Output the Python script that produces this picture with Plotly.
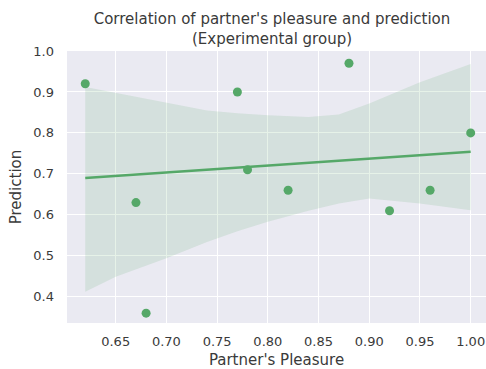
import numpy as np
import plotly.graph_objects as go

# Data
partner_pleasure = [0.62, 0.67, 0.68, 0.77, 0.78, 0.82, 0.88, 0.92, 0.96, 1.00]
prediction = [0.92, 0.63, 0.36, 0.90, 0.71, 0.66, 0.97, 0.61, 0.66, 0.80]

# Confidence band
band_x = [0.62, 0.65, 0.70, 0.74, 0.77, 0.80, 0.84, 0.87, 0.90, 0.95, 1.00]
band_upper = [0.912, 0.898, 0.874, 0.855, 0.848, 0.843, 0.839, 0.845, 0.872, 0.924, 0.968]
band_lower = [0.412, 0.449, 0.494, 0.534, 0.560, 0.583, 0.610, 0.628, 0.640, 0.628, 0.611]

x_ticks = [0.65, 0.70, 0.75, 0.80, 0.85, 0.90, 0.95, 1.00]
y_ticks = [0.4, 0.5, 0.6, 0.7, 0.8, 0.9, 1.0]

# Regression line (OLS fit of the data)
slope, intercept = np.polyfit(partner_pleasure, prediction, 1)
line_x = [min(partner_pleasure), max(partner_pleasure)]
line_y = [slope * v + intercept for v in line_x]

GREEN = "#55a868"
TEXT = "#3a3a3a"
FONT = "DejaVu Sans"

W, H = 486, 369

fig = go.Figure()
fig.add_trace(go.Scatter(
    x=band_x + band_x[::-1],
    y=band_upper + band_lower[::-1],
    fill="toself", fillcolor="rgba(85,168,104,0.15)",
    line=dict(width=0), mode="lines", hoverinfo="skip", showlegend=False,
))
fig.add_trace(go.Scatter(
    x=line_x, y=line_y, mode="lines",
    line=dict(color=GREEN, width=2.6), showlegend=False,
))
fig.add_trace(go.Scatter(
    x=partner_pleasure, y=prediction, mode="markers",
    marker=dict(color=GREEN, size=9, line=dict(width=0)), showlegend=False,
))

fig.update_layout(
    width=W, height=H,
    margin=dict(l=67, r=0, t=51, b=46, autoexpand=False),
    paper_bgcolor="white", plot_bgcolor="#eaeaf2",
    font=dict(family=FONT, size=13, color=TEXT),
    title=dict(
        text="Correlation of partner's pleasure and prediction<br>(Experimental group)",
        x=272 / W, xref="container", xanchor="center",
        y=1 - 24 / H, yref="container", yanchor="top", automargin=False,
        font=dict(family=FONT, size=15, color=TEXT),
    ),
    xaxis=dict(
        range=[0.602, 1.0151], tickvals=x_ticks, tickformat=".2f",
        showgrid=True, gridcolor="white", gridwidth=1.3, zeroline=False,
        showline=False, ticks="", ticklabelstandoff=9, automargin=False,
        tickfont=dict(family=FONT, size=13, color=TEXT),
        title=dict(text="Partner's Pleasure", standoff=9,
                   font=dict(family=FONT, size=15, color=TEXT)),
    ),
    yaxis=dict(
        range=[0.336, 1.0], tickvals=y_ticks, tickformat=".1f",
        showgrid=True, gridcolor="white", gridwidth=1.3, zeroline=False,
        showline=False, ticks="", ticklabelstandoff=12, automargin=False,
        tickfont=dict(family=FONT, size=13, color=TEXT),
        title=dict(text="Prediction", standoff=8,
                   font=dict(family=FONT, size=15, color=TEXT)),
    ),
)

fig.write_html(
    "out.html",
    config={"displayModeBar": False},
    post_script="document.body.style.margin='0';document.body.style.overflow='hidden';",
)
